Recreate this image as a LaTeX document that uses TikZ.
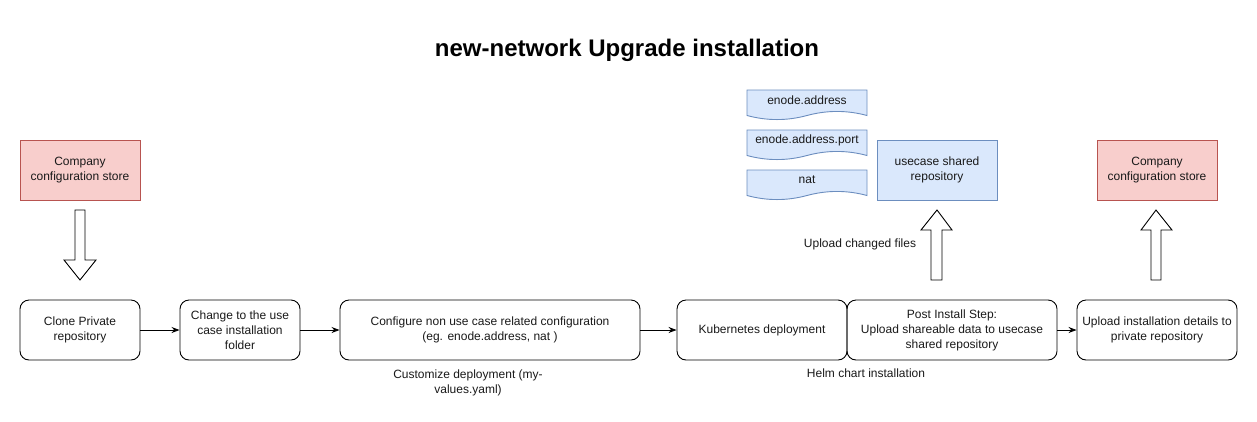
\documentclass[tikz,border=0pt]{standalone}
\usepackage{fontspec}
\setmainfont{Liberation Sans}
\usetikzlibrary{arrows.meta}
\definecolor{redfill}{HTML}{F8CECC}
\definecolor{reddraw}{HTML}{B85450}
\definecolor{bluefill}{HTML}{DAE8FC}
\definecolor{bluedraw}{HTML}{6C8EBF}
\tikzset{
  lbl/.style={font=\fontsize{12}{15}\selectfont, align=center, text=black!90, inner sep=0pt},
  stepbox/.style={draw, rounded corners=9pt, line width=0.9pt, lbl, minimum height=60pt},
  redbox/.style={draw=reddraw, fill=redfill, line width=0.9pt, lbl, minimum width=120pt, minimum height=60pt},
  bluebox/.style={draw=bluedraw, fill=bluefill, line width=0.9pt, lbl, minimum width=120pt, minimum height=60pt},
  conn/.style={-{Stealth[length=8pt,width=6pt]}, line width=0.9pt},
  fatarrow/.style={draw, fill=white, line width=0.9pt},
  docfill/.style={draw=bluedraw, fill=bluefill, line width=0.9pt}
}
\newcommand\docbox[4]{% name, x0, y0, text
  \path[docfill] (#2,#3) -- (#2+120,#3) -- (#2+120,#3+25.5)
     .. controls (#2+100,#3+20.1) and (#2+80,#3+20.1) .. (#2+60,#3+25.5)
     .. controls (#2+40,#3+30.9) and (#2+20,#3+30.9) .. (#2,#3+25.5) -- cycle;
  \node[lbl] (#1) at (#2+60,#3+10) {#4};
}
\begin{document}
\begin{tikzpicture}[x=1pt,y=-1pt]
\useasboundingbox (0,0) rectangle (1257,421);
\node[font=\bfseries\fontsize{24}{28}\selectfont, inner sep=0pt] (title) at (627,50) {new-network Upgrade installation};

\node[redbox] (store1) at (80,170) {Company\\configuration store};
\node[redbox] (store2) at (1157,170) {Company\\configuration store};

\node[stepbox, minimum width=120pt] (clone) at (80,330) {Clone Private\\repository};
\node[stepbox, minimum width=120pt] (change) at (240,330) {Change to the use\\case installation\\folder};
\node[stepbox, minimum width=300pt] (config) at (490,330) {Configure non use case related configuration\\(eg. enode.address, nat )};
\node[stepbox, minimum width=170pt] (kube) at (762,330) {Kubernetes deployment};
\node[stepbox, minimum width=210pt] (post) at (952,330) {Post Install Step:\\Upload shareable data to usecase\\shared repository};
\node[stepbox, minimum width=160pt] (upload) at (1157,330) {Upload installation details to\\private repository};

\node[lbl] (custom) at (468,383) {Customize deployment (my-\\values.yaml)};
\node[lbl] (helm) at (866,373) {Helm chart installation};
\node[lbl] (changed) at (860,244) {Upload changed files};

\node[bluebox] (shared) at (937,170) {usecase shared\\repository};
\docbox{d1}{747}{90}{enode.address}
\docbox{d2}{747}{130}{enode.address.port}
\docbox{d3}{747}{170}{nat}

\draw[conn] (clone) -- (change);
\draw[conn] (change) -- (config);
\draw[conn] (config) -- (kube);
\draw[conn] (post) -- (upload);

% big hollow arrows
\path[fatarrow] (75,210) -- (85,210) -- (85,260) -- (96,260) -- (80,280) -- (64,260) -- (75,260) -- cycle;
\path[fatarrow] (931,280) -- (942,280) -- (942,230) -- (952,230) -- (937,210) -- (921,230) -- (931,230) -- cycle;
\path[fatarrow] (1151,280) -- (1161,280) -- (1161,230) -- (1172,230) -- (1156,210) -- (1141,230) -- (1151,230) -- cycle;
\end{tikzpicture}
\end{document}
